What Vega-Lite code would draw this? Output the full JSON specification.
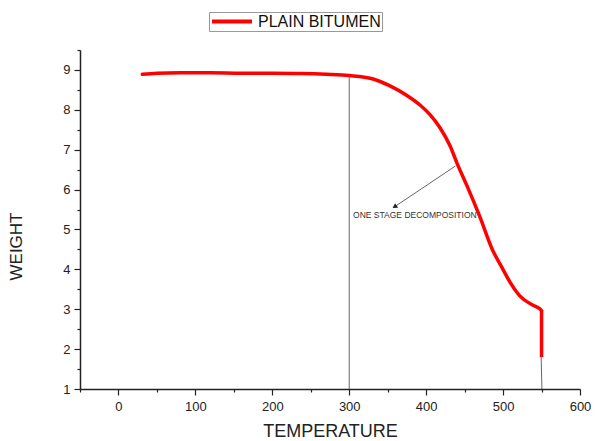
{
  "$schema": "https://vega.github.io/schema/vega-lite/v6.json",
  "autosize": {"type": "none"},
  "width": 500,
  "height": 339,
  "padding": {"left": 80, "top": 50, "right": 15, "bottom": 52},
  "background": "white",
  "config": {
    "view": {"stroke": null},
    "font": "Liberation Sans",
    "axis": {"grid": false, "domainColor": "#222", "tickColor": "#222", "labelColor": "#222", "titleColor": "#222", "labelFont": "Liberation Sans", "titleFont": "Liberation Sans", "titleFontWeight": "normal", "domainWidth": 1.5, "tickWidth": 1.2, "labelOverlap": false, "labelBound": false, "labelFlush": false}
  },
  "datasets": {
    "curve": [
      {"t": 31, "w": 8.89, "series": "PLAIN BITUMEN"},
      {"t": 50, "w": 8.92, "series": "PLAIN BITUMEN"},
      {"t": 80, "w": 8.93, "series": "PLAIN BITUMEN"},
      {"t": 120, "w": 8.93, "series": "PLAIN BITUMEN"},
      {"t": 160, "w": 8.92, "series": "PLAIN BITUMEN"},
      {"t": 200, "w": 8.92, "series": "PLAIN BITUMEN"},
      {"t": 238, "w": 8.91, "series": "PLAIN BITUMEN"},
      {"t": 270, "w": 8.89, "series": "PLAIN BITUMEN"},
      {"t": 300, "w": 8.86, "series": "PLAIN BITUMEN"},
      {"t": 330, "w": 8.78, "series": "PLAIN BITUMEN"},
      {"t": 353, "w": 8.6, "series": "PLAIN BITUMEN"},
      {"t": 375, "w": 8.36, "series": "PLAIN BITUMEN"},
      {"t": 392, "w": 8.12, "series": "PLAIN BITUMEN"},
      {"t": 405, "w": 7.88, "series": "PLAIN BITUMEN"},
      {"t": 418, "w": 7.55, "series": "PLAIN BITUMEN"},
      {"t": 431, "w": 7.1, "series": "PLAIN BITUMEN"},
      {"t": 441, "w": 6.62, "series": "PLAIN BITUMEN"},
      {"t": 453, "w": 6.1, "series": "PLAIN BITUMEN"},
      {"t": 470, "w": 5.31, "series": "PLAIN BITUMEN"},
      {"t": 486, "w": 4.5, "series": "PLAIN BITUMEN"},
      {"t": 499, "w": 4.03, "series": "PLAIN BITUMEN"},
      {"t": 509, "w": 3.68, "series": "PLAIN BITUMEN"},
      {"t": 522, "w": 3.33, "series": "PLAIN BITUMEN"},
      {"t": 539, "w": 3.1, "series": "PLAIN BITUMEN"},
      {"t": 547, "w": 3.02, "series": "PLAIN BITUMEN"},
      {"t": 550, "w": 2.97, "series": "PLAIN BITUMEN"}
    ],
    "drop": [
      {"t": 550, "w": 2.97},
      {"t": 550, "w": 1.8}
    ],
    "guides": [
      {"x": 300, "y": 1, "x2": 300, "y2": 8.86},
      {"x": 550.5, "y": 1, "x2": 549.5, "y2": 1.8},
      {"x": 438, "y": 6.59, "x2": 359, "y2": 5.57}
    ],
    "head": [{"x": 359, "y": 5.57}],
    "note": [{"x": 305, "y": 5.36, "label": "ONE STAGE DECOMPOSITION"}]
  },
  "layer": [
    {
      "data": {"name": "guides"},
      "mark": {"type": "rule", "color": "#555", "strokeWidth": 0.9},
      "encoding": {
        "x": {"field": "x", "type": "quantitative", "scale": {"domain": [-50, 600], "nice": false, "zero": false},
          "axis": {"values": [-50, 0, 50, 100, 150, 200, 250, 300, 350, 400, 450, 500, 550, 600], "tickCount": 30, "labelExpr": "datum.value % 100 == 0 ? format(datum.value, 'd') : ''", "tickSize": {"condition": {"test": "datum.value % 100 == 0", "value": 6}, "value": 3}, "labelFontSize": 13, "labelPadding": 5, "title": "TEMPERATURE", "titleFontSize": 18, "titlePadding": 9}},
        "y": {"field": "y", "type": "quantitative", "scale": {"domain": [1, 9.5], "nice": false, "zero": false},
          "axis": {"values": [1, 1.5, 2, 2.5, 3, 3.5, 4, 4.5, 5, 5.5, 6, 6.5, 7, 7.5, 8, 8.5, 9, 9.5], "tickCount": 30, "labelExpr": "datum.value % 1 == 0 ? format(datum.value, 'd') : ''", "tickSize": {"condition": {"test": "datum.value % 1 == 0", "value": 6}, "value": 3}, "labelFontSize": 13, "labelPadding": 4, "title": "WEIGHT", "titleFontSize": 17, "titlePadding": 37, "titleY": 196}},
        "x2": {"field": "x2"},
        "y2": {"field": "y2"}
      }
    },
    {
      "data": {"name": "curve"},
      "mark": {"type": "line", "strokeWidth": 3.5, "interpolate": "monotone", "strokeJoin": "round", "strokeCap": "round"},
      "encoding": {
        "x": {"field": "t", "type": "quantitative"},
        "y": {"field": "w", "type": "quantitative"},
        "color": {"field": "series", "type": "nominal", "scale": {"range": ["#ff0000"]},
          "legend": {"title": null, "orient": "none", "legendX": 129, "legendY": -38, "symbolType": "stroke", "symbolSize": 1600, "clipHeight": 17, "symbolStrokeWidth": 4, "labelFontSize": 16, "labelColor": "#111", "labelFont": "Liberation Sans", "labelOffset": 4, "padding": 1, "strokeColor": "#999", "fillColor": "white"}}
      }
    },
    {
      "data": {"name": "drop"},
      "mark": {"type": "line", "strokeWidth": 3.5, "color": "#ff0000", "strokeCap": "butt"},
      "encoding": {
        "x": {"field": "t", "type": "quantitative"},
        "y": {"field": "w", "type": "quantitative"}
      }
    },
    {
      "data": {"name": "head"},
      "mark": {"type": "point", "shape": "triangle-up", "filled": true, "color": "#222", "size": 30, "angle": 236, "opacity": 1},
      "encoding": {
        "x": {"field": "x", "type": "quantitative"},
        "y": {"field": "y", "type": "quantitative"}
      }
    },
    {
      "data": {"name": "note"},
      "mark": {"type": "text", "align": "left", "baseline": "middle", "fontSize": 8.5, "color": "#333", "font": "Liberation Sans"},
      "encoding": {
        "x": {"field": "x", "type": "quantitative"},
        "y": {"field": "y", "type": "quantitative"},
        "text": {"field": "label"}
      }
    }
  ]
}
